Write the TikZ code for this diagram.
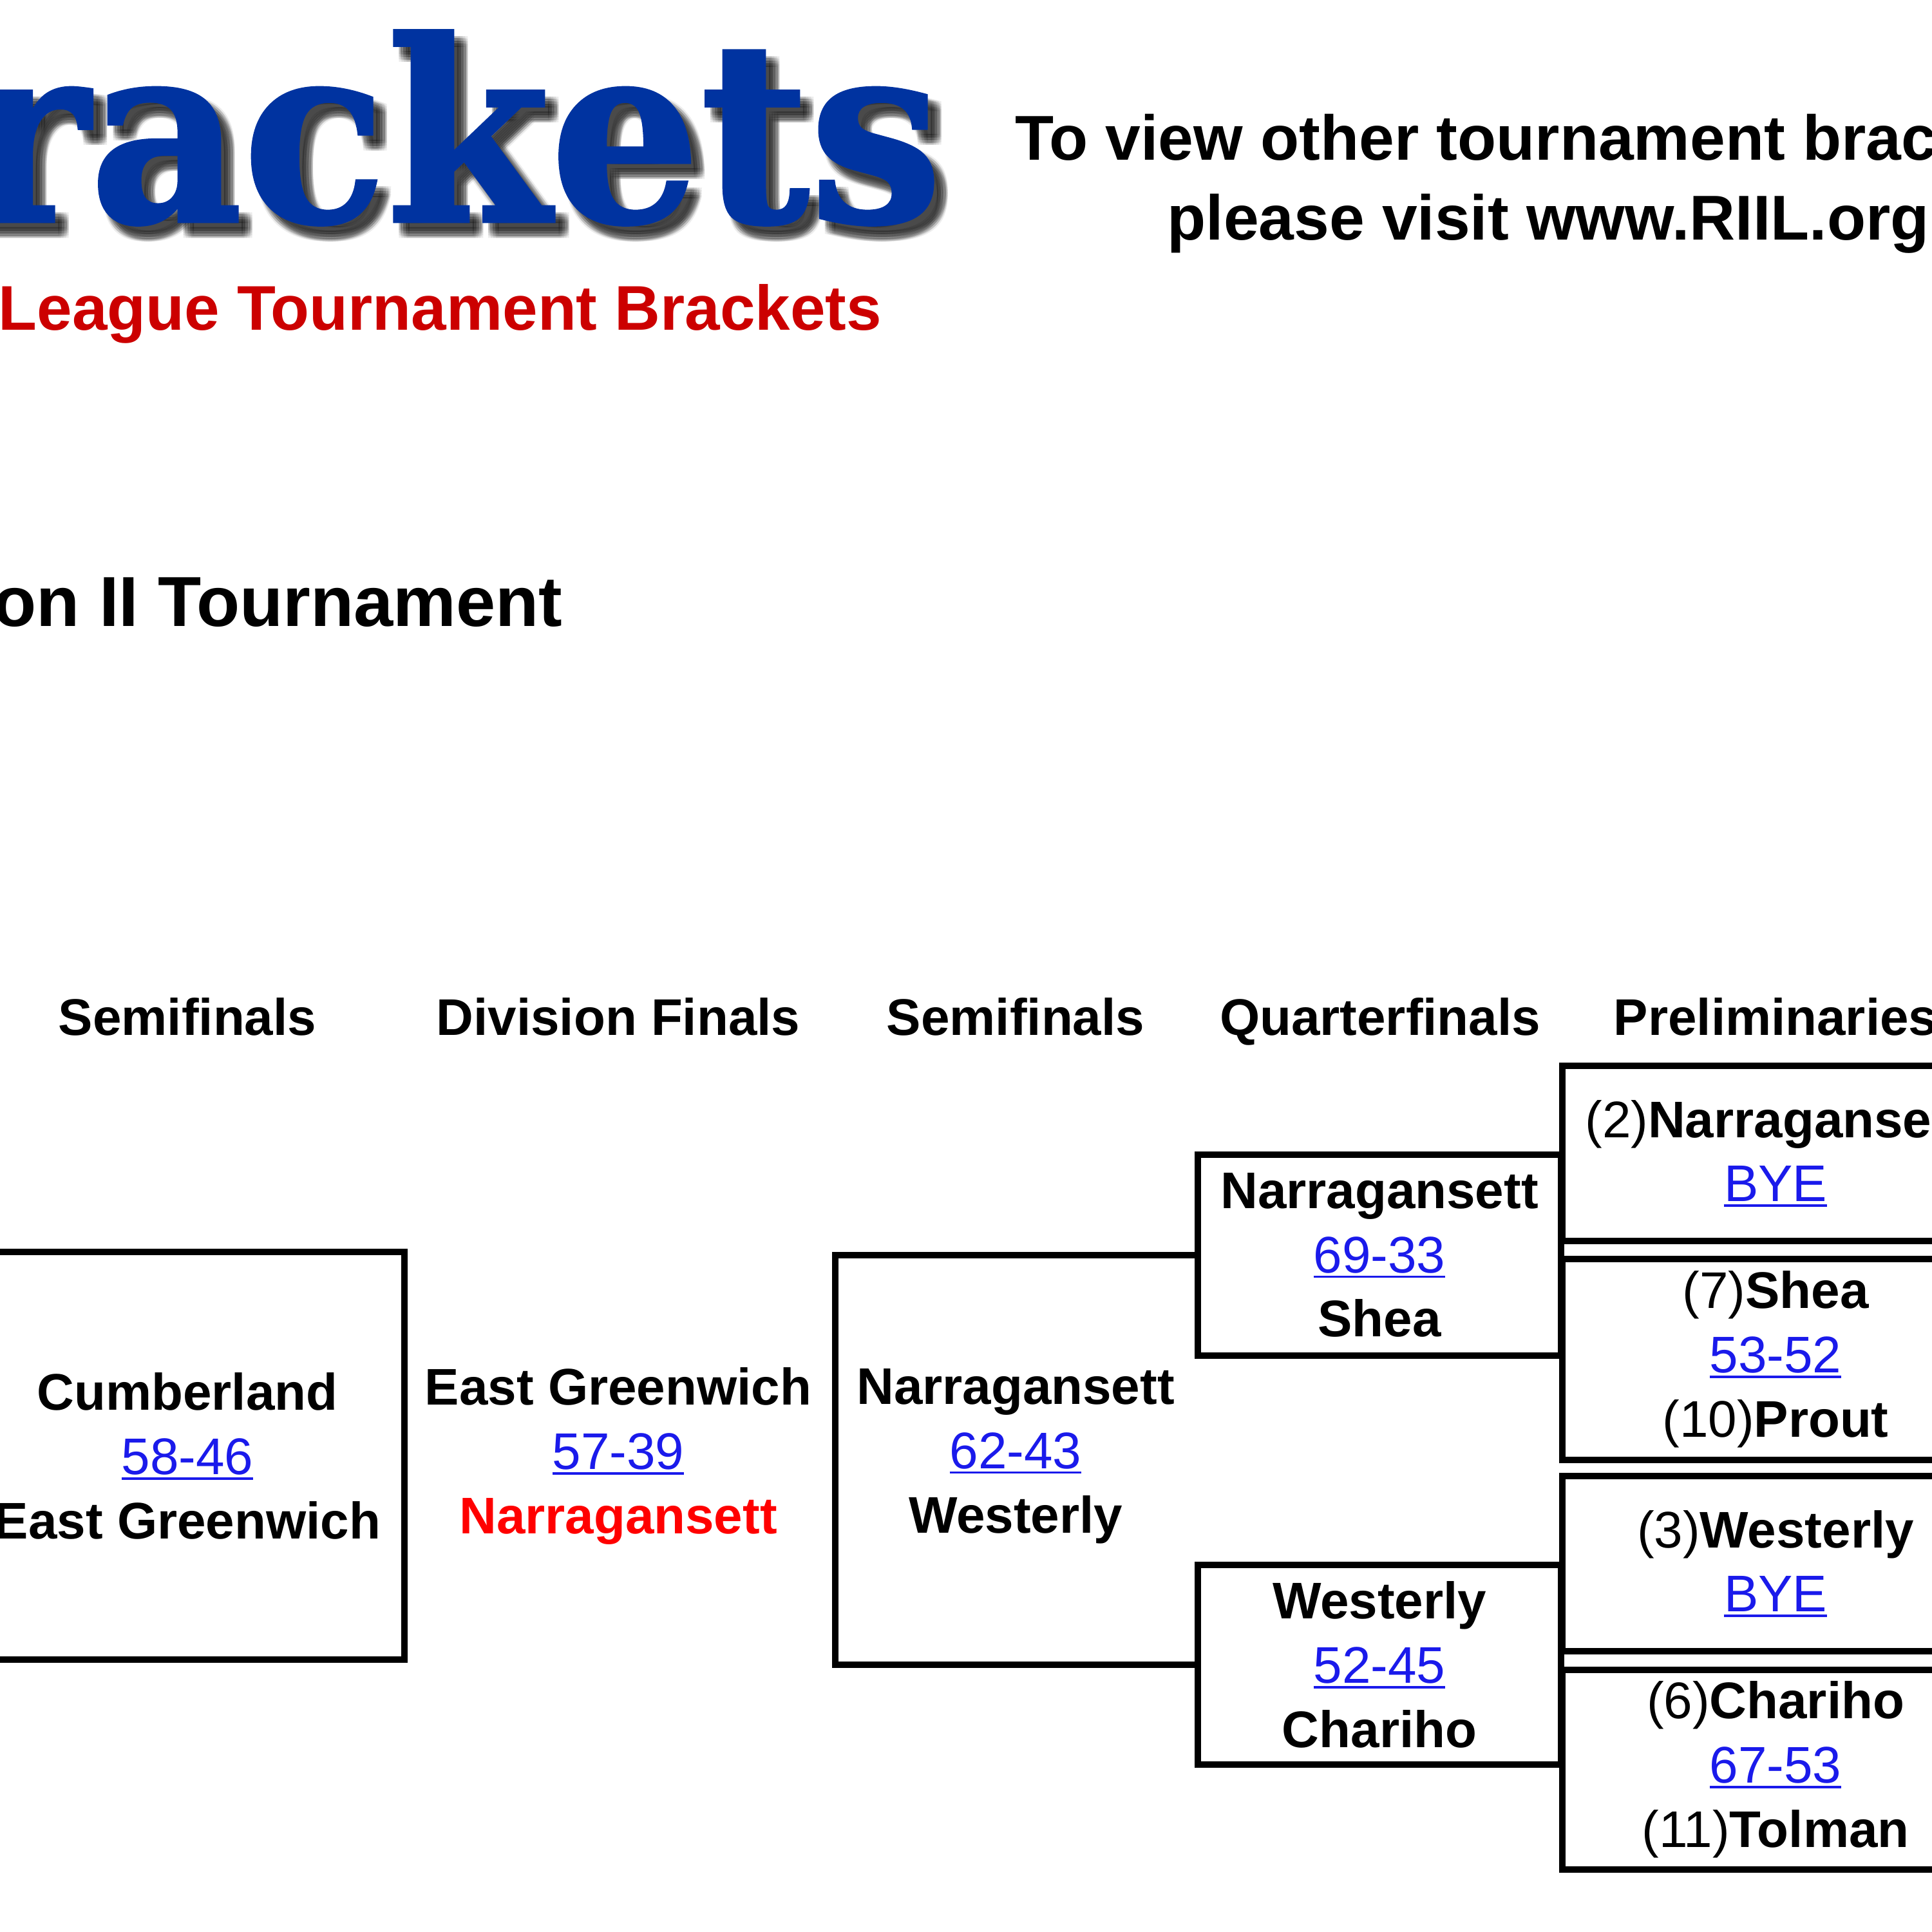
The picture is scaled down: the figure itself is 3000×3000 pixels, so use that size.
\documentclass[tikz,border=0pt]{standalone}
\usepackage{fontspec}
\setmainfont{Liberation Sans}
\newfontfamily\logofont[FakeBold=1.2]{DejaVu Serif}
\usepackage{graphicx}
\usetikzlibrary{positioning}
\definecolor{logoBlue}{RGB}{0,51,160}
\definecolor{titleRed}{RGB}{204,0,0}
\definecolor{winRed}{RGB}{255,0,0}
\definecolor{linkBlue}{RGB}{26,26,235}
\newcommand{\scorelink}[1]{{\mdseries\color{linkBlue}\setbox0\hbox{#1}\rlap{\rule[-0.1em]{\wd0}{0.045em}}\box0}}
\newcommand{\seed}[2]{{\mdseries(#1)}#2}

\begin{document}
\begin{tikzpicture}[x=0.1mm,y=-0.1mm,
   team/.style={font=\fontsize{22.76}{28.4}\selectfont\bfseries,align=center,inner sep=0pt},
   head/.style={font=\fontsize{22.76}{28.4}\selectfont\bfseries,anchor=base,inner sep=0pt},
   qbox/.style={team,draw,line width=2.8pt,minimum width=56.4mm,minimum height=31.2mm},
   pbox/.style={team,draw,line width=2.8pt,minimum width=66.2mm},
   bracket/.style={line width=2.8pt},
   logo/.style={font=\logofont\bfseries\fontsize{111}{111}\selectfont,anchor=base east,inner sep=0pt}]
\clip (0,0) rectangle (3000,3000);
\fill[white] (0,0) rectangle (3000,3000);
%% ---- header ----
\foreach \dx/\dy [count=\i] in {9/11,13/11,17/11,21/11,9/15,13/15,17/15,21/15,9/19,13/19,17/19,21/19,9/23,13/23,17/23,21/23}
  \node[logo,text=black,opacity=0.07] (shad\i) at (1464+\dx,344+\dy) {\scalebox{0.94}[1]{rackets}};
\node[logo,text=logoBlue] (logo) at (1464,344) {\scalebox{0.94}[1]{rackets}};
\node[anchor=base west,inner sep=0pt,text=titleRed,
      font=\fontsize{27.9}{30}\selectfont\bfseries] (subtitle) at (-3,513) {League Tournament Brackets};
\node[anchor=base,inner sep=0pt,font=\fontsize{28}{30}\selectfont\bfseries] (visitA) at (2404,249) {To view other tournament brackets,};
\node[anchor=base,inner sep=0pt,font=\fontsize{28}{30}\selectfont\bfseries] (visitB) at (2404,373) {please visit www.RIIL.org};
\node[anchor=base east,inner sep=0pt,font=\fontsize{31.3}{33}\selectfont\bfseries] (divTitle) at (874,972) {on II Tournament};
%% ---- round headings ----
\node[head] (hSemiL) at (291,1607) {Semifinals};
\node[head] (hFinal) at (960,1607) {Division Finals};
\node[head] (hSemiR) at (1577,1607) {Semifinals};
\node[head] (hQuart) at (2143,1607) {Quarterfinals};
\node[head] (hPrelim) at (2757,1607) {Preliminaries};
%% ---- preliminaries ----
\node[pbox,minimum height=27.2mm] (pA) at (2757,1791) {\seed{2}{Narragansett}\\\scorelink{BYE}};
\node[pbox,minimum height=31.2mm] (pB) at (2757,2111) {\seed{7}{Shea}\\\scorelink{53-52}\\\seed{10}{Prout}};
\node[pbox,minimum height=27.2mm] (pC) at (2757,2428) {\seed{3}{Westerly}\\\scorelink{BYE}};
\node[pbox,minimum height=31.0mm] (pD) at (2757,2748) {\seed{6}{Chariho}\\\scorelink{67-53}\\\seed{11}{Tolman}};
%% ---- quarterfinals ----
\node[qbox] (qfA) at (2142,1949) {Narragansett\\\scorelink{69-33}\\Shea};
\node[qbox,minimum height=31.0mm] (qfB) at (2142,2585) {Westerly\\\scorelink{52-45}\\Chariho};
%% ---- semifinals + final ----
\node[team] (sfR) at (1577,2261) {Narragansett\\\scorelink{62-43}\\Westerly};
\node[team] (final) at (960,2261) {East Greenwich\\\scorelink{57-39}\\\textcolor{winRed}{Narragansett}};
\node[team] (sfL) at (291,2261) {Cumberland\\\scorelink{58-46}\\East Greenwich};
\coordinate (rsfEdge) at (1297,0);
\coordinate (lsfEdge) at (628,0);
\coordinate (lqA) at (-60,1944);
\coordinate (lqB) at (-60,2577);
\draw[bracket] (qfA.west) -- (qfA.west -| rsfEdge) -- (qfB.west -| rsfEdge) -- (qfB.west);
\draw[bracket] (lqA) -- (lqA -| lsfEdge) -- (lqB -| lsfEdge) -- (lqB);
\end{tikzpicture}
\end{document}
